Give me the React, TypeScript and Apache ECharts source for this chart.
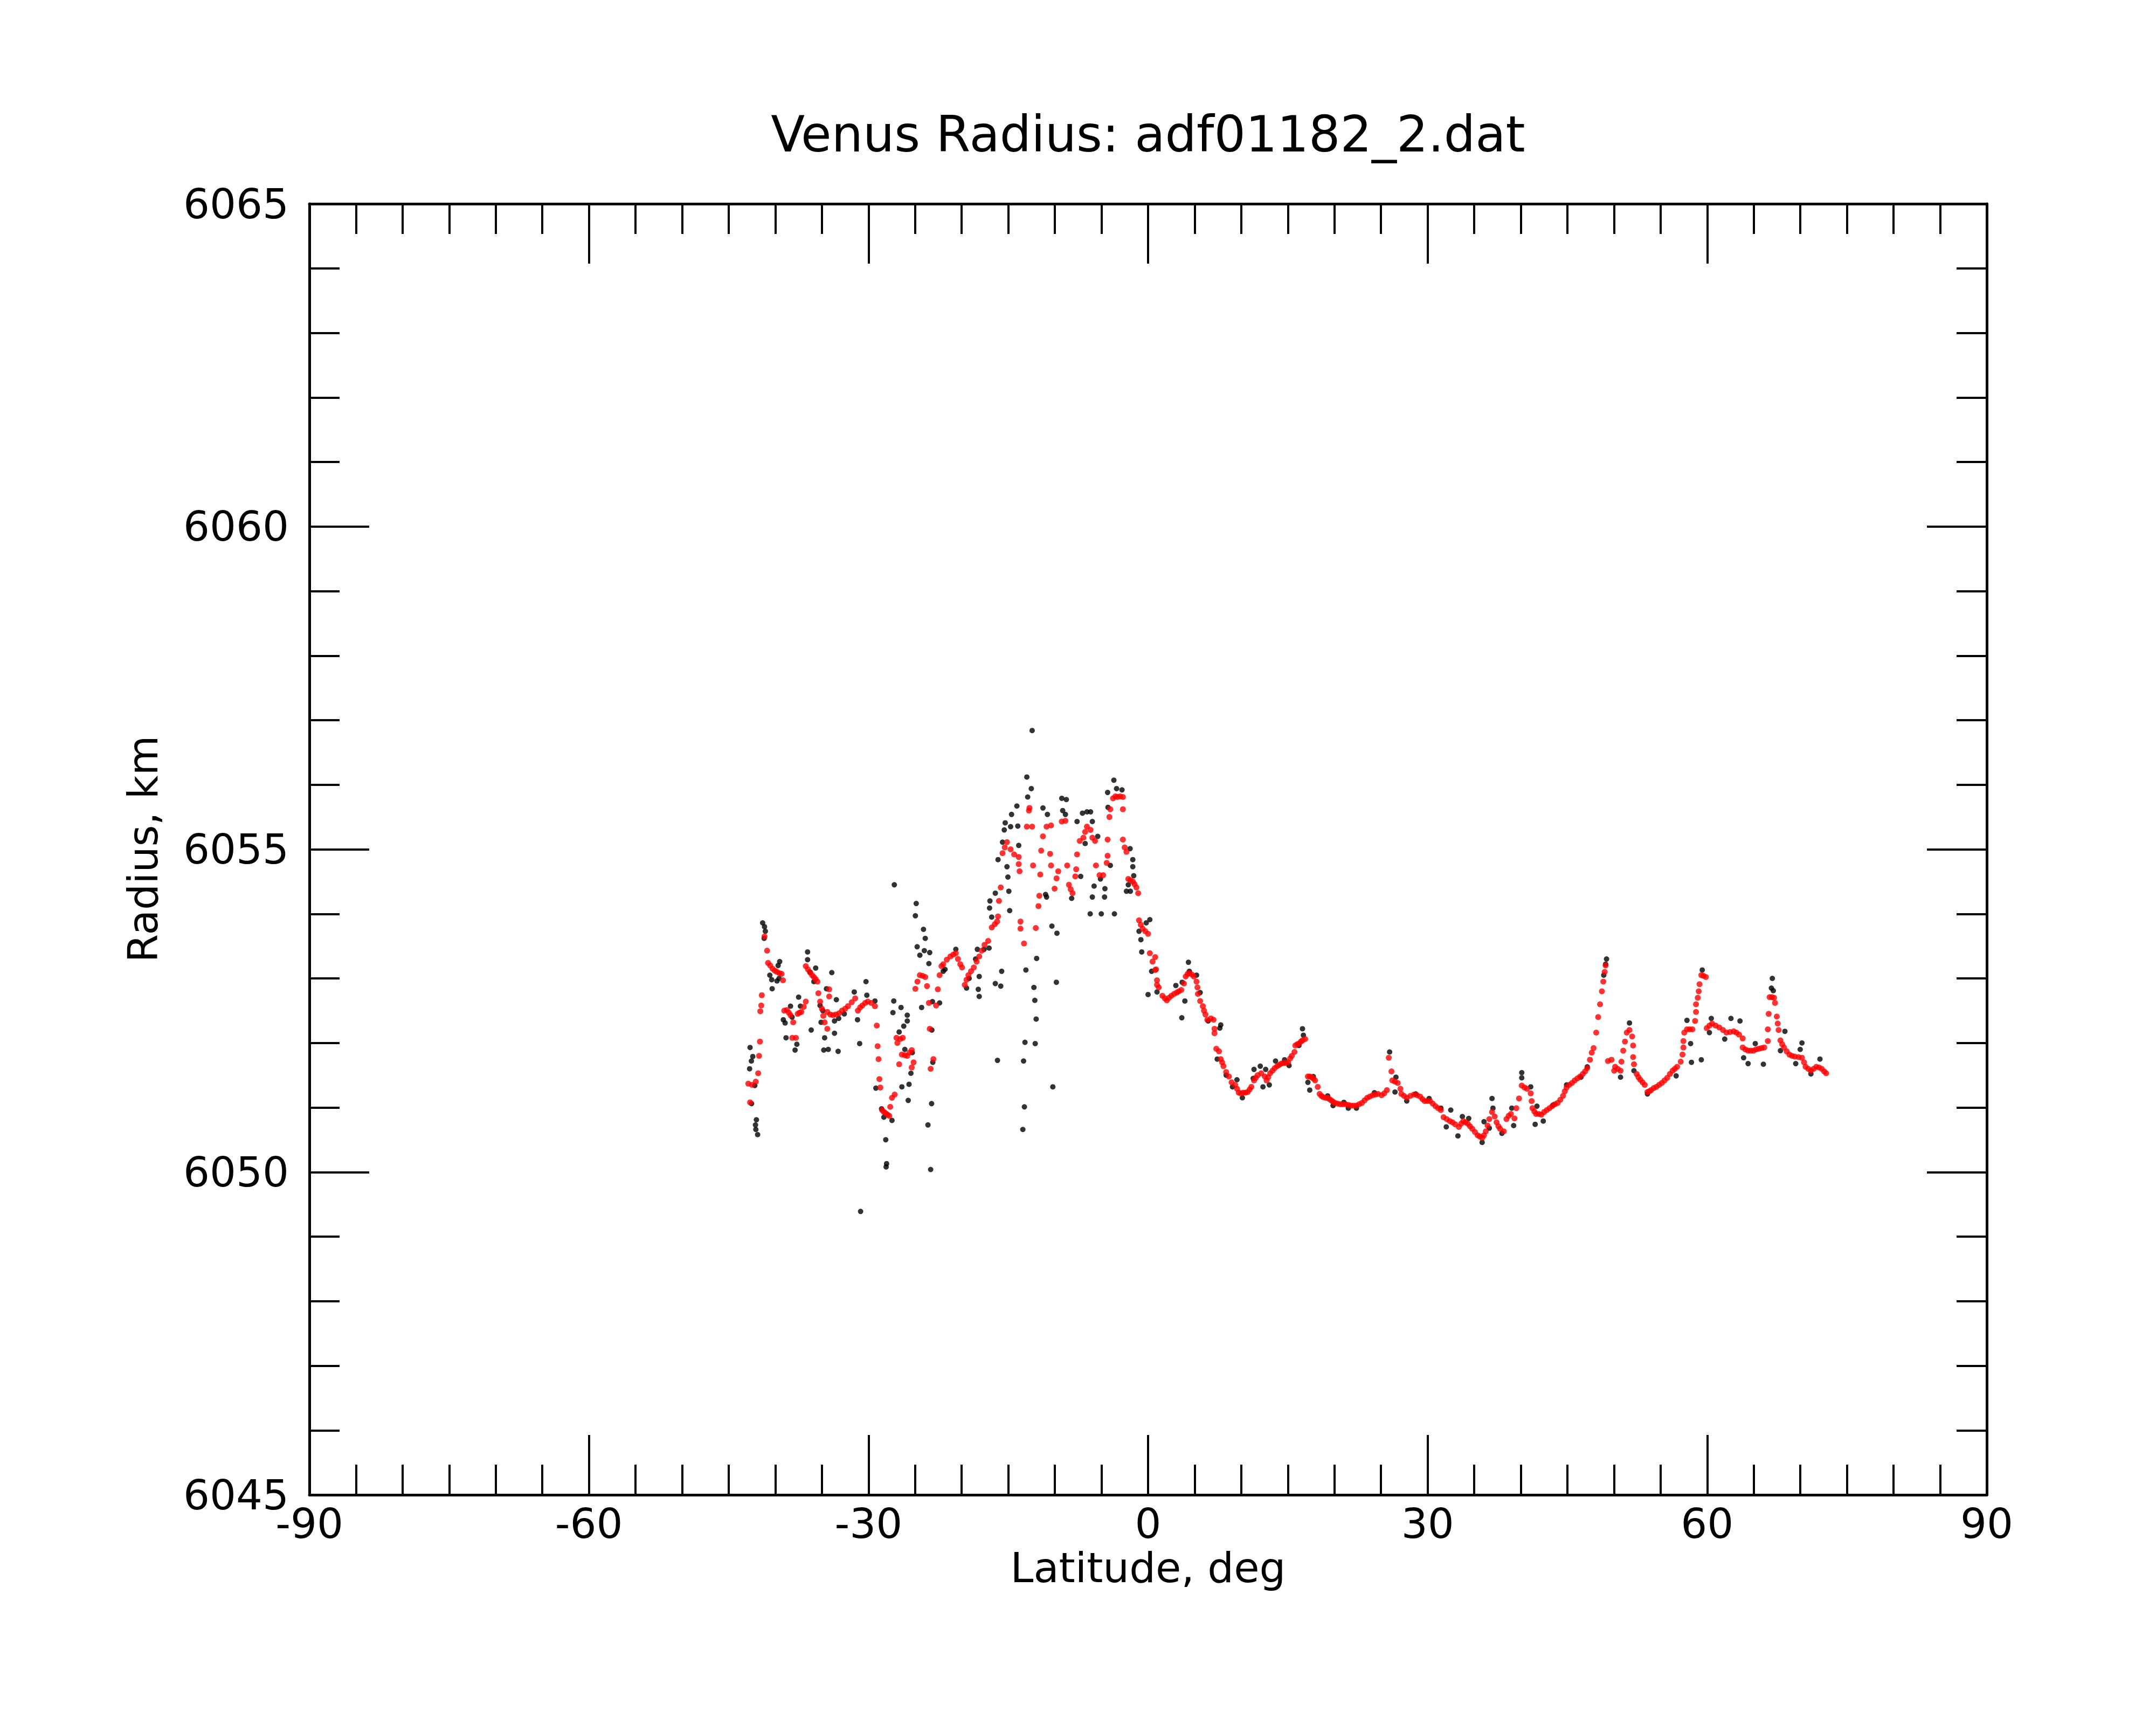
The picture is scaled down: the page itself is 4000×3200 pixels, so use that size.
import React, { useEffect, useRef } from "react";
import * as echarts from "echarts";

const TITLE = "Venus Radius: adf01182_2.dat";
const X_NAME = "Latitude, deg";
const Y_NAME = "Radius, km";
const FONT = "DejaVu Sans";

const X_MIN = -90;
const X_MAX = 90;
const X_STEP = 30;
const Y_MIN = 6045;
const Y_MAX = 6065;
const Y_STEP = 5;

// Raw (black) points [latitude, radius]
const blackSouth: [number, number][] = [
  [-42.71, 6051.93], [-42.42, 6051.79], [-42.57, 6051.72], [-42.76, 6051.6], [-42.03, 6050.81], [-42.13, 6050.73],
  [-42.09, 6050.66], [-41.9, 6050.58], [-42.55, 6051.06], [-42.2, 6051.34],
  [-41.36, 6053.86], [-41.16, 6053.8], [-41.07, 6053.73], [-41.2, 6053.62],
  [-39.53, 6053.26], [-39.7, 6053.2], [-40.59, 6053.05], [-40.39, 6052.98], [-39.82, 6052.96], [-40.34, 6052.84], [-39.6, 6053.0],
  [-39.14, 6052.36], [-38.95, 6052.31], [-38.85, 6052.08], [-37.88, 6051.89], [-37.69, 6051.98], [-37.5, 6052.71],
  [-37.31, 6052.57], [-38.37, 6052.57], [-38.2, 6052.4],
  [-36.54, 6053.41], [-36.54, 6053.29], [-35.67, 6053.16], [-35.86, 6052.95], [-36.3, 6053.1],
  [-36.15, 6052.2], [-34.71, 6052.08], [-34.8, 6051.89], [-34.32, 6051.9], [-33.26, 6051.87], [-33.65, 6052.15],
  [-33.65, 6052.34], [-33.94, 6053.09], [-34.51, 6052.84], [-33.45, 6052.67], [-35.09, 6052.32], [-35.2, 6052.58], [-34.9, 6052.5],
  [-31.53, 6052.79], [-30.27, 6052.95], [-30.18, 6052.74], [-31.18, 6052.36], [-30.95, 6051.99], [-29.31, 6052.65],
  [-32.6, 6052.45], [-33.2, 6052.38],
  [-29.21, 6051.3], [-28.35, 6050.85], [-27.48, 6050.8], [-28.15, 6050.5], [-28.06, 6050.13], [-28.11, 6050.08], [-28.6, 6050.98],
  [-30.85, 6049.39],
  [-27.29, 6052.65], [-26.51, 6052.55], [-27.38, 6052.47], [-25.84, 6052.43], [-25.84, 6052.34], [-26.22, 6052.26],
  [-26.71, 6052.17], [-26.42, 6051.32], [-25.65, 6051.36], [-25.74, 6051.11], [-25.45, 6051.53], [-26.1, 6051.9], [-25.3, 6051.85],
  [-27.23, 6054.45],
  [-24.88, 6054.16], [-24.97, 6053.97], [-24.1, 6053.76], [-23.91, 6053.62], [-24.78, 6053.49], [-24.49, 6053.36],
  [-24.01, 6053.43], [-23.43, 6053.4], [-23.52, 6053.23],
  [-24.3, 6052.55], [-23.14, 6052.64], [-22.37, 6052.62], [-23.2, 6052.2], [-23.1, 6051.7],
  [-23.23, 6051.06], [-23.62, 6050.73], [-23.33, 6050.04],
  [-21.79, 6053.14], [-21.98, 6053.11],
];

const blackEquator: [number, number][] = [
  [-20.63, 6053.45], [-19.48, 6052.85], [-19.2, 6053.0],
  [-12.44, 6056.84],
  [-13.01, 6056.12], [-12.53, 6055.94], [-12.92, 6055.81],
  [-14.08, 6055.67], [-14.65, 6055.54], [-15.33, 6055.41], [-15.43, 6055.3], [-14.75, 6055.35], [-13.98, 6055.36],
  [-15.62, 6055.11], [-13.88, 6055.06], [-16.1, 6054.84], [-15.14, 6054.73], [-15.04, 6054.57], [-14.94, 6054.35],
  [-16.39, 6054.32], [-16.97, 6054.2], [-17.01, 6054.09], [-14.85, 6054.05], [-16.78, 6053.95],
  [-18.32, 6053.45], [-18.51, 6053.3], [-18.12, 6053.03], [-18.22, 6052.83], [-18.12, 6052.72], [-17.06, 6053.47], [-17.6, 6053.45],
  [-16.39, 6052.92], [-15.81, 6052.88], [-15.71, 6053.11],
  [-13.11, 6053.13], [-11.96, 6053.31], [-12.25, 6052.86], [-12.15, 6052.66], [-12.01, 6052.37], [-13.21, 6052.01],
  [-12.11, 6051.99], [-13.36, 6051.72], [-16.16, 6051.73], [-10.22, 6051.32], [-13.27, 6051.01], [-13.44, 6050.66],
  [-9.84, 6052.94], [-10.32, 6053.81], [-9.78, 6053.7],
  [-11.28, 6055.64], [-10.8, 6055.54], [-9.26, 6055.79], [-8.77, 6055.77], [-9.16, 6055.6], [-8.87, 6055.54],
  [-10.89, 6054.26], [-11.0, 6054.3],
  [-8.2, 6054.24], [-7.62, 6055.43], [-7.04, 6055.56], [-6.56, 6055.58], [-6.17, 6055.58], [-6.75, 6055.09],
  [-5.98, 6055.43], [-5.4, 6055.2], [-7.23, 6054.58],
  [-6.21, 6054.0], [-5.02, 6054.0], [-3.61, 6054.0],
  [-5.79, 6054.43], [-4.63, 6054.39], [-5.98, 6054.26], [-4.67, 6054.26], [-5.11, 6054.54],
  [-3.67, 6056.07], [-3.38, 6055.94], [-2.8, 6055.92], [-4.34, 6055.88], [-4.3, 6055.65],
  [-4.05, 6054.75], [-1.93, 6055.01], [-1.64, 6054.84], [-1.64, 6054.73], [-1.54, 6054.59], [-2.12, 6054.45],
  [-2.32, 6054.35], [-1.9, 6054.35],
  [0.19, 6053.91], [-0.2, 6053.86], [-0.97, 6053.73], [-0.68, 6053.41], [-0.77, 6053.6],
  [0.0, 6052.75], [0.38, 6053.11],
];

const blackNorth: [number, number][] = [
  [0.96, 6052.79], [2.98, 6052.89], [3.66, 6052.94], [3.95, 6052.65], [3.62, 6052.39], [4.33, 6053.25], [4.43, 6053.11],
  [5.2, 6053.05], [5.59, 6052.78], [6.45, 6052.34], [7.8, 6052.28], [7.7, 6052.23], [7.42, 6051.75], [8.38, 6051.5],
  [9.06, 6051.32], [9.54, 6051.43], [10.12, 6051.15], [11.28, 6051.45], [11.37, 6051.59], [12.04, 6051.64], [12.62, 6051.59],
  [12.33, 6051.32], [13.01, 6051.35], [13.68, 6051.72], [14.65, 6051.74], [15.13, 6051.65], [16.19, 6051.96],
  [16.57, 6052.22], [16.67, 6052.12],
  [17.15, 6051.39], [17.35, 6051.27], [17.73, 6051.48], [19.27, 6051.18], [19.85, 6051.03], [21.01, 6051.08],
  [21.49, 6050.99], [22.36, 6050.99], [24.29, 6051.23],
  [25.92, 6051.86], [26.6, 6051.47], [26.5, 6051.24], [27.76, 6051.1], [28.72, 6051.21], [30.16, 6051.14], [31.42, 6050.99],
  [32.48, 6050.96], [33.73, 6050.86], [32.0, 6050.7], [33.25, 6050.56], [34.41, 6050.83], [35.85, 6050.46], [36.91, 6051.14],
  [37.01, 6050.99], [36.05, 6050.78], [36.62, 6050.68], [37.97, 6050.6], [39.03, 6050.99], [39.23, 6050.72], [40.1, 6051.54],
  [40.1, 6051.46], [41.06, 6051.32], [41.73, 6051.02], [41.54, 6050.74], [42.41, 6050.79], [43.47, 6051.04], [44.91, 6051.35],
  [46.45, 6051.47], [47.13, 6051.63],
  [49.2, 6053.3], [49.1, 6053.22], [48.9, 6053.05],
  [50.7, 6051.47], [51.66, 6052.31], [52.14, 6051.57], [53.59, 6051.21], [56.67, 6051.49], [57.83, 6052.35], [58.22, 6051.99],
  [58.31, 6051.7], [59.37, 6051.74], [59.47, 6053.13], [60.44, 6052.38], [60.24, 6052.16], [61.88, 6052.06], [62.55, 6052.38],
  [63.52, 6052.34], [63.91, 6051.77], [64.39, 6051.68], [65.16, 6051.99], [66.03, 6051.67], [66.99, 6053.0], [66.89, 6052.85],
  [67.09, 6052.81], [68.34, 6052.18], [67.86, 6051.88], [69.5, 6051.68], [70.17, 6052.0], [69.98, 6051.9], [71.13, 6051.52],
  [72.1, 6051.75],
];

// Filtered (red) points [latitude, radius]
const redSouth: [number, number][] = [
  [-42.71, 6051.08], [-42.9, 6051.37], [-42.5, 6051.35], [-42.1, 6051.4], [-41.84, 6051.53], [-41.74, 6051.8],
  [-41.65, 6052.02], [-41.61, 6052.49], [-41.51, 6052.58], [-41.45, 6052.74],
  [-41.16, 6053.65], [-40.88, 6053.43], [-40.78, 6053.24], [-40.55, 6053.2], [-40.3, 6053.15], [-40.05, 6053.12],
  [-39.82, 6053.1], [-39.55, 6053.08], [-39.33, 6053.07], [-39.18, 6052.97],
  [-39.04, 6052.5], [-38.76, 6052.51], [-38.55, 6052.47], [-38.37, 6052.43], [-38.08, 6052.32], [-38.18, 6052.08],
  [-37.79, 6052.08], [-37.6, 6052.45], [-37.4, 6052.47], [-37.21, 6052.48], [-36.95, 6052.56], [-36.73, 6052.64],
  [-36.73, 6053.19], [-36.5, 6053.14], [-36.25, 6053.09], [-36.05, 6053.05], [-35.86, 6053.02], [-35.67, 6052.99],
  [-35.48, 6052.95], [-35.38, 6052.77], [-35.19, 6052.64], [-35.0, 6052.53], [-34.85, 6052.42], [-34.71, 6052.32],
  [-34.42, 6052.22], [-34.22, 6052.83], [-34.22, 6052.72],
  [-34.42, 6052.48], [-34.1, 6052.44], [-33.8, 6052.43], [-33.5, 6052.44], [-33.16, 6052.46], [-32.85, 6052.5],
  [-32.5, 6052.53], [-32.2, 6052.57], [-31.8, 6052.63], [-31.43, 6052.69],
  [-31.14, 6052.5], [-30.9, 6052.55], [-30.66, 6052.58], [-30.35, 6052.62], [-30.08, 6052.64], [-29.7, 6052.62], [-29.31, 6052.57],
  [-29.11, 6052.27], [-29.02, 6051.95], [-28.92, 6051.75], [-28.83, 6051.44], [-28.73, 6051.31],
  [-28.54, 6050.96], [-28.35, 6050.93], [-28.15, 6050.91], [-27.96, 6050.89], [-27.77, 6050.87], [-27.67, 6051.01],
  [-27.48, 6051.15], [-27.19, 6051.2],
  [-27.0, 6052.08], [-26.9, 6052.0], [-26.6, 6052.06], [-26.32, 6052.08], [-26.71, 6051.67], [-26.42, 6051.82], [-26.1, 6051.81],
  [-25.84, 6051.8], [-25.6, 6051.85], [-25.36, 6051.89], [-25.16, 6051.7], [-25.36, 6051.62],
  [-24.97, 6052.84], [-24.75, 6052.95], [-24.49, 6053.05], [-24.2, 6053.04], [-23.91, 6053.02], [-23.72, 6052.88],
  [-23.52, 6052.62], [-23.43, 6052.22], [-23.04, 6051.75], [-23.33, 6051.6], [-22.75, 6052.58], [-22.56, 6052.83],
  [-22.37, 6053.05], [-22.17, 6053.19],
];

const redEquator: [number, number][] = [
  [-21.98, 6053.22], [-21.6, 6053.29], [-21.21, 6053.34], [-20.9, 6053.37], [-20.63, 6053.39], [-20.4, 6053.3],
  [-20.15, 6053.22], [-19.96, 6053.17], [-19.67, 6052.9], [-19.48, 6052.98], [-19.28, 6053.05], [-19.0, 6053.11],
  [-18.7, 6053.17], [-18.4, 6053.26], [-18.12, 6053.34], [-17.85, 6053.43], [-17.55, 6053.52], [-17.16, 6053.58],
  [-16.77, 6053.79], [-16.45, 6053.84], [-16.2, 6053.88], [-16.1, 6053.96], [-16.0, 6054.2], [-15.81, 6054.41],
  [-15.62, 6054.94], [-15.38, 6055.03], [-15.14, 6055.11], [-14.75, 6055.0], [-14.37, 6054.92], [-13.88, 6054.88],
  [-13.88, 6054.77], [-13.79, 6054.66], [-13.69, 6053.88], [-13.69, 6053.77], [-13.31, 6053.54],
  [-13.01, 6055.35], [-12.73, 6055.64], [-12.78, 6055.6], [-12.44, 6055.35], [-12.34, 6054.75], [-11.57, 6054.61],
  [-11.67, 6054.28], [-11.76, 6054.12], [-12.05, 6053.78], [-11.47, 6054.98], [-11.28, 6055.2], [-10.89, 6055.35],
  [-10.51, 6054.93], [-10.41, 6054.75], [-10.41, 6055.37], [-10.03, 6054.39], [-9.82, 6054.55], [-9.64, 6054.66],
  [-9.26, 6055.43], [-8.87, 6055.44], [-8.68, 6054.75], [-8.49, 6054.45], [-8.3, 6054.38], [-8.1, 6054.32],
  [-7.81, 6054.58], [-7.71, 6054.69], [-7.62, 6054.92], [-7.33, 6055.13], [-6.94, 6055.18], [-6.75, 6055.27],
  [-6.56, 6055.35], [-6.17, 6055.3], [-5.98, 6055.18], [-5.69, 6055.13], [-5.59, 6054.75], [-5.21, 6054.6],
  [-4.82, 6054.6], [-4.44, 6054.79], [-4.34, 6054.9], [-4.34, 6055.15], [-4.15, 6055.5], [-4.05, 6055.62],
  [-3.76, 6055.79], [-3.5, 6055.82], [-3.28, 6055.81], [-3.0, 6055.82], [-2.7, 6055.81], [-2.7, 6055.62],
  [-2.7, 6055.15], [-2.51, 6055.03], [-2.32, 6054.96], [-2.12, 6054.54], [-1.9, 6054.52], [-1.64, 6054.5],
  [-1.45, 6054.46], [-1.25, 6054.41], [-1.06, 6054.32], [-0.97, 6053.9], [-0.78, 6053.83], [-0.58, 6053.77],
  [-0.3, 6053.73], [0.0, 6053.69], [0.19, 6053.39], [0.48, 6053.26], [0.77, 6053.13], [0.77, 6053.33],
  [0.86, 6053.14], [0.96, 6052.9], [0.96, 6052.97], [1.15, 6052.86],
];

const redNorthA: [number, number][] = [
  [1.54, 6052.73], [1.8, 6052.69], [2.02, 6052.66], [2.25, 6052.7], [2.5, 6052.73], [2.8, 6052.76], [3.08, 6052.78],
  [3.3, 6052.8], [3.56, 6052.82], [3.85, 6052.92], [4.04, 6053.03], [4.25, 6053.07], [4.43, 6053.08], [4.7, 6053.06],
  [4.91, 6053.03], [5.2, 6052.95], [5.3, 6052.86], [5.35, 6052.76], [5.59, 6052.65], [5.88, 6052.57], [6.0, 6052.5],
  [6.16, 6052.44], [6.36, 6052.36], [6.74, 6052.38], [7.03, 6052.36], [7.13, 6052.22], [7.13, 6052.15], [7.32, 6051.91],
  [7.61, 6051.87], [7.8, 6051.75], [7.95, 6051.7], [8.09, 6051.64], [8.38, 6051.55], [8.67, 6051.48], [8.96, 6051.39],
  [9.35, 6051.35], [9.55, 6051.29], [9.73, 6051.23], [9.97, 6051.22], [10.21, 6051.23], [10.45, 6051.23], [10.69, 6051.24],
  [10.9, 6051.28], [11.08, 6051.32], [11.37, 6051.42], [11.55, 6051.46], [11.76, 6051.5], [12.14, 6051.53], [12.53, 6051.48],
  [12.72, 6051.42], [12.9, 6051.47], [13.1, 6051.53], [13.35, 6051.57], [13.59, 6051.61], [13.85, 6051.64], [14.07, 6051.66],
  [14.3, 6051.68], [14.55, 6051.69], [14.8, 6051.69], [15.03, 6051.7], [15.25, 6051.76], [15.42, 6051.8], [15.71, 6051.86],
  [15.8, 6051.96], [16.0, 6051.98], [16.19, 6051.99], [16.4, 6052.02], [16.57, 6052.04], [16.86, 6052.06],
  [17.15, 6051.48], [17.35, 6051.48], [17.54, 6051.47], [17.73, 6051.45], [17.92, 6051.42], [18.21, 6051.32], [18.41, 6051.21],
  [18.6, 6051.18], [18.79, 6051.16], [19.05, 6051.15], [19.27, 6051.15], [19.46, 6051.13], [19.66, 6051.11], [19.85, 6051.09],
  [20.04, 6051.07], [20.33, 6051.06], [20.62, 6051.05], [20.9, 6051.05], [21.2, 6051.05], [21.5, 6051.04], [21.78, 6051.03],
  [22.07, 6051.03], [22.36, 6051.03], [22.65, 6051.05], [22.94, 6051.07], [23.23, 6051.11], [23.52, 6051.15], [23.8, 6051.17],
  [24.1, 6051.19], [24.4, 6051.2], [24.67, 6051.21],
  [25.06, 6051.19], [25.35, 6051.22], [25.63, 6051.27], [25.83, 6051.77], [26.12, 6051.56], [26.21, 6051.42], [26.5, 6051.4],
  [26.79, 6051.38], [27.08, 6051.29], [27.18, 6051.21], [27.47, 6051.18], [27.76, 6051.15], [28.15, 6051.18], [28.53, 6051.2],
  [28.87, 6051.19], [29.2, 6051.17], [29.45, 6051.13], [29.68, 6051.1], [29.97, 6051.1], [30.26, 6051.1], [30.55, 6051.06],
  [30.84, 6051.02], [31.13, 6050.99], [31.42, 6050.96], [31.71, 6050.85], [32.05, 6050.82], [32.38, 6050.79], [32.67, 6050.77],
  [32.96, 6050.74], [33.35, 6050.7], [33.6, 6050.75], [33.83, 6050.79], [34.07, 6050.77], [34.31, 6050.75], [34.55, 6050.71],
  [34.79, 6050.67], [35.08, 6050.62], [35.37, 6050.57], [35.6, 6050.55], [35.85, 6050.53], [36.05, 6050.57], [36.24, 6050.63],
  [36.43, 6050.72], [36.62, 6050.82], [36.91, 6050.93], [37.2, 6050.86], [37.4, 6050.77], [37.6, 6050.71], [37.78, 6050.67],
  [38.17, 6050.63], [38.46, 6050.82], [38.7, 6050.87], [38.94, 6050.9], [39.32, 6050.83], [39.52, 6050.99], [39.81, 6051.14],
  [40.1, 6051.34], [40.4, 6051.31], [40.67, 6051.29], [41.06, 6051.22], [41.16, 6051.1], [41.25, 6050.99], [41.45, 6050.94],
  [41.64, 6050.9], [41.93, 6050.9], [42.21, 6050.89], [42.5, 6050.93], [42.79, 6050.96], [43.08, 6050.99], [43.37, 6051.02],
  [43.66, 6051.05], [43.95, 6051.07], [44.24, 6051.12], [44.53, 6051.18], [44.72, 6051.25], [44.91, 6051.31], [45.2, 6051.35],
  [45.49, 6051.38], [45.78, 6051.42], [46.07, 6051.45], [46.36, 6051.48], [46.65, 6051.52], [46.9, 6051.56], [47.13, 6051.61],
  [47.42, 6051.74], [47.61, 6051.85], [47.81, 6051.92], [48.09, 6052.16],
];

const redNorthB: [number, number][] = [
  [48.3, 6052.4], [48.5, 6052.6], [48.7, 6052.8], [48.85, 6052.95], [49.0, 6053.1], [49.1, 6053.2],
  [49.35, 6051.72], [49.73, 6051.74], [50.02, 6051.57], [50.12, 6051.63], [50.4, 6051.6], [50.7, 6051.57], [50.8, 6051.71],
  [50.99, 6051.88], [51.18, 6052.02], [51.37, 6052.16], [51.66, 6052.2], [51.95, 6052.1], [52.05, 6051.96], [52.05, 6051.78],
  [52.14, 6051.67], [52.43, 6051.52], [52.62, 6051.47], [52.82, 6051.43], [53.06, 6051.39], [53.3, 6051.35], [53.59, 6051.24],
  [53.79, 6051.25], [53.98, 6051.27], [54.26, 6051.3], [54.55, 6051.32], [54.84, 6051.35], [55.13, 6051.38], [55.42, 6051.42],
  [55.71, 6051.46], [56.0, 6051.52], [56.29, 6051.57], [56.53, 6051.6], [56.77, 6051.63], [57.16, 6051.71], [57.35, 6051.82],
  [57.45, 6051.93], [57.45, 6052.03], [57.54, 6052.16], [57.83, 6052.21], [58.12, 6052.21], [58.41, 6052.21], [58.7, 6052.34],
  [58.8, 6052.48], [58.8, 6052.6], [58.99, 6052.7], [59.09, 6052.8], [59.18, 6052.91], [59.37, 6053.05], [59.6, 6053.04],
  [59.86, 6053.02],
  [59.95, 6052.23], [60.24, 6052.27], [60.53, 6052.3], [60.9, 6052.27], [61.3, 6052.24], [61.7, 6052.2], [62.07, 6052.16],
  [62.45, 6052.17], [62.84, 6052.18], [63.13, 6052.16], [63.42, 6052.13], [63.81, 6052.07], [63.81, 6051.93], [64.1, 6051.9],
  [64.39, 6051.88], [64.68, 6051.88], [64.97, 6051.88], [65.25, 6051.9], [65.54, 6051.91], [65.83, 6051.92], [66.12, 6051.93],
  [66.51, 6052.03], [66.51, 6052.21], [66.6, 6052.45], [66.7, 6052.71], [66.95, 6052.71], [67.18, 6052.7], [67.28, 6052.62],
  [67.47, 6052.41], [67.57, 6052.3], [67.66, 6052.2], [67.86, 6052.04], [68.05, 6051.98], [68.24, 6051.93], [68.53, 6051.87],
  [68.82, 6051.82], [69.1, 6051.8], [69.4, 6051.79], [69.8, 6051.78], [70.17, 6051.77], [70.4, 6051.7], [70.56, 6051.63],
  [70.85, 6051.6], [71.13, 6051.57], [71.42, 6051.6], [71.71, 6051.63], [72.0, 6051.62], [72.29, 6051.6], [72.55, 6051.56],
  [72.77, 6051.53],
];

const blackPoints = [...blackSouth, ...blackEquator, ...blackNorth];
const redPoints = [...redSouth, ...redEquator, ...redNorthA, ...redNorthB];

const GRID = { left: 574, top: 378, width: 3112, height: 2395 };

function makeAxisBase(showLabel: boolean, labelMargin: number, lineHeight?: number) {
  return {
    type: "value" as const,
    axisLine: { show: true, onZero: false, lineStyle: { color: "#000", width: 5 } },
    axisTick: { show: true, inside: true, length: 111, lineStyle: { color: "#000", width: 4 } },
    splitLine: { show: false },
    minorSplitLine: { show: false },
    axisLabel: {
      show: showLabel,
      margin: labelMargin,
      fontSize: 77,
      fontFamily: FONT,
      color: "#000",
      ...(lineHeight ? { lineHeight } : {}),
      formatter: (v: number) => String(v),
    },
  };
}

export default function App() {
  const ref = useRef<HTMLDivElement>(null);
  useEffect(() => {
    document.body.style.margin = "0";
    if (!ref.current) return;
    const chart = echarts.init(ref.current, null, { renderer: "svg" });
    const xBase = {
      min: X_MIN,
      max: X_MAX,
      interval: X_STEP,
      minorTick: { show: true, splitNumber: 6, length: 56, lineStyle: { color: "#000", width: 4 } },
    };
    const yBase = {
      min: Y_MIN,
      max: Y_MAX,
      interval: Y_STEP,
      minorTick: { show: true, splitNumber: 5, length: 56, lineStyle: { color: "#000", width: 4 } },
    };
    chart.setOption({
      animation: false,
      backgroundColor: "#fff",
      grid: { ...GRID, containLabel: false },
      xAxis: [
        { ...makeAxisBase(true, 22, 62), ...xBase, position: "bottom" },
        { ...makeAxisBase(false, 22, 62), ...xBase, position: "top" },
      ],
      yAxis: [
        { ...makeAxisBase(true, 38), ...yBase, position: "left" },
        { ...makeAxisBase(false, 38), ...yBase, position: "right" },
      ],
      graphic: [
        {
          type: "text",
          x: 2130,
          y: 249,
          silent: true,
          style: {
            text: TITLE,
            fontSize: 92,
            fontFamily: FONT,
            fill: "#000",
            align: "center",
            verticalAlign: "middle",
          },
        },
        {
          type: "text",
          x: 2130,
          y: 2908,
          silent: true,
          style: {
            text: X_NAME,
            fontSize: 77,
            lineHeight: 62,
            fontFamily: FONT,
            fill: "#000",
            align: "center",
            verticalAlign: "middle",
          },
        },
        {
          type: "text",
          x: 265,
          y: 1575,
          rotation: Math.PI / 2,
          silent: true,
          style: {
            text: Y_NAME,
            fontSize: 76,
            fontFamily: FONT,
            fill: "#000",
            align: "center",
            verticalAlign: "middle",
          },
        },
      ],
      series: [
        {
          name: "raw",
          type: "scatter",
          xAxisIndex: 0,
          yAxisIndex: 0,
          data: blackPoints,
          symbol: "circle",
          symbolSize: 10,
          itemStyle: { color: "#000" },
          silent: true,
        },
        {
          name: "filtered",
          type: "scatter",
          xAxisIndex: 0,
          yAxisIndex: 0,
          data: redPoints,
          symbol: "circle",
          symbolSize: 11,
          itemStyle: { color: "#ff0000" },
          silent: true,
        },
      ],
    });
    return () => chart.dispose();
  }, []);
  return <div ref={ref} style={{ width: 4000, height: 3200, position: "absolute", left: 0, top: 0 }} />;
}
